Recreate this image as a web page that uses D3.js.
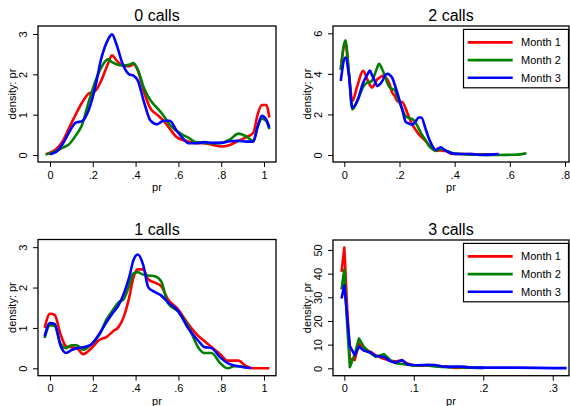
<!DOCTYPE html>
<html lang="en">
<head>
<meta charset="UTF-8">
<title>Density of pr by calls</title>
<script src="https://d3js.org/d3.v7.min.js"></script>
<style>
    body{ margin:0; background:#fff; }
    svg text{ font-family: "Liberation Sans", Arial, sans-serif; fill:#000; }
</style>
</head>
<body>
<svg id="canvas" width="570" height="406"></svg>
<script>
// series names and colours
const months = ["Month 1", "Month 2", "Month 3"];
const monthColors = ["#ff0000", "#008000", "#0000ff"];

// 0 calls
const calls0_pr = [-0.02,0,0.03,0.06,0.09,0.12,0.15,0.18,0.21,0.24,0.27,0.29,0.31,0.34,0.37,0.39,0.41,0.44,0.47,0.50,0.53,0.56,0.59,0.62,0.65,0.68,0.72,0.76,0.80,0.84,0.88,0.92,0.95,0.97,0.99,1.01,1.025];
const calls0_m1 = [0.02,0.06,0.15,0.35,0.68,1.0,1.3,1.52,1.58,1.85,2.25,2.47,2.35,2.22,2.2,2.25,2.1,1.55,1.15,1.0,0.85,0.65,0.45,0.37,0.33,0.3,0.29,0.25,0.21,0.25,0.35,0.45,0.55,1.0,1.24,1.24,0.93];
const calls0_m2 = [0.01,0.04,0.1,0.18,0.27,0.48,0.75,1.3,1.8,2.17,2.37,2.3,2.25,2.22,2.24,2.28,2.12,1.65,1.35,1.17,0.98,0.75,0.6,0.5,0.42,0.32,0.3,0.29,0.3,0.38,0.53,0.45,0.35,0.7,0.9,0.85,0.64];
const calls0_m3 = [null,0.02,0.08,0.28,0.57,0.8,0.84,1.1,1.65,2.4,2.85,2.99,2.75,2.25,2.0,1.97,1.85,1.3,0.85,0.76,0.85,0.85,0.62,0.42,0.29,0.29,0.32,0.3,0.3,0.34,0.35,0.33,0.33,0.7,0.97,0.88,0.68];

// 2 calls
const calls2_pr = [-0.013,0.004,0.017,0.029,0.047,0.068,0.083,0.093,0.1,0.108,0.119,0.126,0.138,0.145,0.156,0.165,0.174,0.183,0.192,0.201,0.21,0.222,0.235,0.246,0.258,0.27,0.279,0.295,0.307,0.319,0.331,0.349,0.367,0.39,0.42,0.46,0.5,0.54,0.56,0.6,0.63,0.66];
const calls2_m1 = [4.22,5.5,4.0,2.66,3.4,4.15,3.73,3.45,3.32,3.45,3.73,3.8,3.9,3.85,3.73,3.45,3.07,2.9,2.66,2.62,2.61,2.3,1.85,1.51,1.25,1.02,0.9,0.69,0.5,0.32,0.24,0.22,0.2,0.05,0.05,0.05,0.03,0.03,null,null,null,null];
const calls2_m2 = [4.2,5.65,4.0,2.25,2.66,3.35,3.57,3.6,3.65,3.9,4.3,4.5,4.2,3.98,3.55,3.32,3.26,3.2,2.85,2.55,2.25,1.92,1.82,1.78,1.6,1.3,1.05,0.72,0.45,0.3,0.2,0.3,0.22,0.1,0.05,0.02,0.01,0.0,0.0,0.01,0.02,0.08];
const calls2_m3 = [3.65,4.8,3.9,2.33,2.66,3.55,3.95,4.16,3.95,3.73,3.4,3.45,3.65,3.85,4.0,3.95,3.8,3.45,3.07,2.65,2.25,1.65,1.55,1.5,1.65,1.85,1.85,1.27,0.8,0.45,0.25,0.38,0.22,0.08,0.05,0.05,0.0,0.03,0.05,null,null,null];

// 1 calls
const calls1_pr = [-0.025,0.0,0.022,0.05,0.075,0.1,0.125,0.155,0.19,0.23,0.265,0.295,0.32,0.345,0.37,0.39,0.41,0.435,0.46,0.49,0.52,0.55,0.6,0.645,0.695,0.72,0.755,0.795,0.83,0.86,0.88,0.915,0.94,0.96,0.99,1.025];
const calls1_m1 = [1.0,1.35,1.32,0.83,0.55,0.52,0.5,0.35,0.48,0.7,0.78,0.92,1.02,1.28,1.75,2.25,2.45,2.45,2.2,2.12,2.03,1.72,1.45,1.1,0.79,0.68,0.53,0.35,0.19,0.19,0.19,0.06,0.01,0.0,0.0,0.0];
const calls1_m2 = [0.75,1.07,1.05,0.6,0.5,0.57,0.57,0.46,0.58,0.82,1.22,1.45,1.63,1.72,2.05,2.35,2.38,2.32,2.3,2.28,2.15,1.62,1.4,1.05,0.5,0.38,0.38,0.13,0.0,0.05,0.05,0.03,null,null,null,null];
const calls1_m3 = [0.79,1.12,1.1,0.55,0.38,0.45,0.5,0.52,0.58,0.85,1.15,1.38,1.56,1.85,2.25,2.68,2.82,2.57,2.0,1.89,1.8,1.64,1.41,1.0,0.67,0.53,0.5,0.27,0.13,0.07,0.05,0.02,0.0,null,null,null];

// 3 calls
const calls3_pr = [-0.004,0.0,0.004,0.008,0.015,0.021,0.028,0.038,0.045,0.052,0.057,0.066,0.074,0.083,0.091,0.1,0.11,0.12,0.13,0.14,0.15,0.16,0.17,0.18,0.2,0.22,0.25,0.28,0.3,0.32];
const calls3_m1 = [40.7,51,26,4,3.5,10.5,7.7,7.0,5.5,4.6,4.0,3.2,3.0,3.3,2.0,1.2,1.1,1.3,1.2,0.9,0.6,0.2,0.3,0.3,0.2,null,null,null,null,null];
const calls3_m2 = [33.3,41.7,19,0.5,6,12.6,9.1,6.3,4.9,5.5,6.0,3.5,2.2,1.8,1.5,1.1,1.4,1.2,0.8,0.6,0.5,0.5,0.4,0.3,0.2,null,null,null,null,null];
const calls3_m3 = [29.5,35.1,22,9.4,5.6,9.1,7.5,6.6,5.2,5.0,4.9,3.0,2.4,3.5,1.6,1.4,1.3,1.5,1.4,0.9,0.6,0.7,0.7,0.4,0.3,0.3,0.3,0.2,0.1,0.1];

// tick values
const ticksPr01 = [0, 0.2, 0.4, 0.6, 0.8, 1];
const ticksPr08 = [0, 0.2, 0.4, 0.6, 0.8];
const ticksPr03 = [0, 0.1, 0.2, 0.3];
const ticksDens3 = [0, 1, 2, 3];
const ticksDens6 = [0, 2, 4, 6];
const ticksDens50 = [0, 10, 20, 30, 40, 50];

const panels = [
    {title: "0 calls", pr: calls0_pr, ys: [calls0_m1, calls0_m2, calls0_m3], xt: ticksPr01, yt: ticksDens3,
     l: 38, r: 276, t: 26, b: 162, xd: [-0.056, 1.056], yd: [-0.174, 3.198], legend: false, curve: d3.curveMonotoneX},
    {title: "2 calls", pr: calls2_pr, ys: [calls2_m1, calls2_m2, calls2_m3], xt: ticksPr08, yt: ticksDens6,
     l: 333, r: 569, t: 26, b: 162, xd: [-0.041, 0.8144], yd: [-0.345, 6.36], legend: true, curve: d3.curveMonotoneX},
    {title: "1 calls", pr: calls1_pr, ys: [calls1_m1, calls1_m2, calls1_m3], xt: ticksPr01, yt: ticksDens3,
     l: 38, r: 276, t: 239.5, b: 375.7, xd: [-0.056, 1.056], yd: [-0.183, 3.19], legend: false, curve: d3.curveMonotoneX},
    {title: "3 calls", pr: calls3_pr, ys: [calls3_m1, calls3_m2, calls3_m3], xt: ticksPr03, yt: ticksDens50,
     l: 333, r: 569, t: 240, b: 375.7, xd: [-0.0163, 0.3234], yd: [-3.12, 54.2], legend: true, curve: d3.curveLinear}
];

const svg = d3.select("#canvas");
// stata style labels: .2 instead of 0.2
const fmt = d => d === 0 ? "0" : String(d).replace(/^0\./, ".");

panels.forEach(p => {
    const g = svg.append("g");
    const x = d3.scaleLinear().domain(p.xd).range([p.l, p.r]);
    const y = d3.scaleLinear().domain(p.yd).range([p.b, p.t]);
    const cx = (p.l + p.r) / 2, cy = (p.t + p.b) / 2;

    // title
    g.append("text").attr("x", cx).attr("y", p.t - 5)
        .attr("text-anchor", "middle").style("font-size", "16px").text(p.title);

    // x axis
    const xa = g.append("g").attr("transform", `translate(0,${p.b})`)
        .call(d3.axisBottom(x).tickValues(p.xt).tickSize(5).tickFormat(fmt));
    xa.select(".domain").remove();
    xa.selectAll("line").attr("stroke", "#000");
    xa.selectAll("text").attr("y", 9).attr("dy", "0.71em")
        .style("font-size", "11px").style("font-family", "Liberation Sans, Arial, sans-serif");

    // y axis, labels rotated like stata
    const ya = g.append("g").attr("transform", `translate(${p.l},0)`)
        .call(d3.axisLeft(y).tickValues(p.yt).tickSize(5).tickFormat(fmt));
    ya.select(".domain").remove();
    ya.selectAll("line").attr("stroke", "#000");
    ya.selectAll("text").attr("transform", "rotate(-90)")
        .attr("x", 0).attr("y", -11).attr("dy", 0).attr("text-anchor", "middle")
        .style("font-size", "11px").style("font-family", "Liberation Sans, Arial, sans-serif");

    // axis titles
    g.append("text").attr("x", cx).attr("y", p.b + 29)
        .attr("text-anchor", "middle").style("font-size", "11px").text("pr");
    g.append("text").attr("transform", `translate(${p.l - 22},${cy}) rotate(-90)`)
        .attr("text-anchor", "middle").style("font-size", "11px").text("density: pr");

    // density lines
    const clip = "clip" + p.title.replace(/\s/g, "");
    g.append("clipPath").attr("id", clip).append("rect")
        .attr("x", p.l).attr("y", p.t).attr("width", p.r - p.l).attr("height", p.b - p.t);
    p.ys.forEach((vals, i) => {
        const pts = p.pr.map((v, j) => [v, vals[j]]);
        const line = d3.line()
            .defined(d => d[1] !== null)
            .x(d => x(d[0])).y(d => y(d[1]))
            .curve(p.curve);
        g.append("path").attr("d", line(pts))
            .attr("fill", "none").attr("stroke", monthColors[i])
            .attr("stroke-width", 2.6).attr("stroke-linejoin", "round")
            .attr("clip-path", `url(#${clip})`);
    });

    // plot frame
    g.append("rect").attr("x", p.l).attr("y", p.t)
        .attr("width", p.r - p.l).attr("height", p.b - p.t)
        .attr("fill", "none").attr("stroke", "#000").attr("stroke-width", 1.3);

    // legend
    if (p.legend) {
        const lg = g.append("g").attr("transform", `translate(463.5,${p.t + 3.4})`);
        lg.append("rect").attr("width", 105).attr("height", 58.4)
            .attr("fill", "#fff").attr("stroke", "#000").attr("stroke-width", 1.2);
        months.forEach((m, i) => {
            const yy = 13 + i * 17.7;
            lg.append("line").attr("x1", 4.2).attr("x2", 49.2).attr("y1", yy).attr("y2", yy)
                .attr("stroke", monthColors[i]).attr("stroke-width", 2.6);
            lg.append("text").attr("x", 57.5).attr("y", yy).attr("dy", "0.36em")
                .style("font-size", "11px").text(m);
        });
    }
});
</script>
</body>
</html>
